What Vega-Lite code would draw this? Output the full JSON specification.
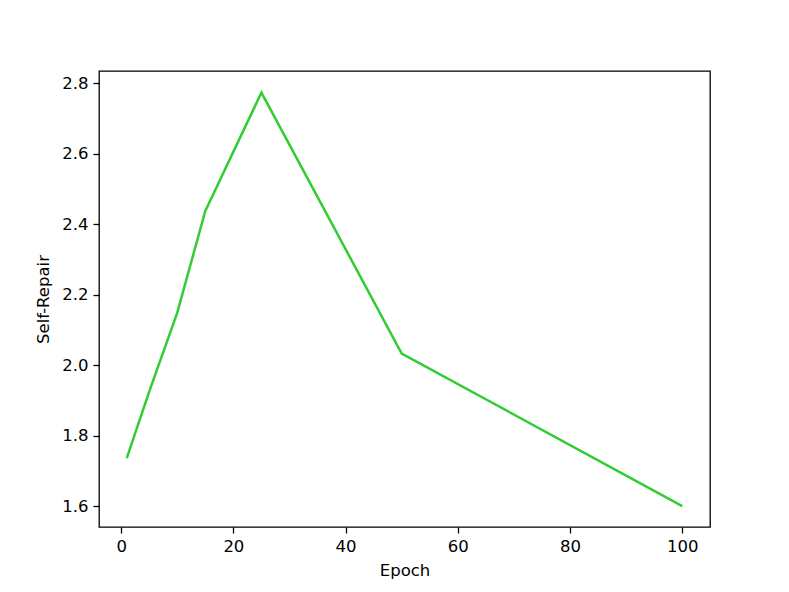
{
  "$schema": "https://vega.github.io/schema/vega-lite/v6.json",
  "width": 611,
  "height": 456,
  "autosize": {"type": "none"},
  "padding": {"left": 99, "top": 71, "right": 79, "bottom": 65},
  "background": "white",
  "config": {
    "view": {"stroke": "black", "strokeWidth": 1.3},
    "font": "DejaVu Sans",
    "axis": {
      "grid": false,
      "domain": false,
      "tickColor": "black",
      "tickSize": 6,
      "tickWidth": 1.3,
      "labelColor": "black",
      "labelFontSize": 16.5,
      "labelFont": "DejaVu Sans",
      "titleFont": "DejaVu Sans",
      "titleFontSize": 16.5,
      "titleFontWeight": "normal",
      "titleColor": "black",
      "labelPadding": 5
    }
  },
  "data": {
    "values": [
      {"epoch": 1, "value": 1.736},
      {"epoch": 5, "value": 1.925},
      {"epoch": 10, "value": 2.149},
      {"epoch": 15, "value": 2.438},
      {"epoch": 25, "value": 2.774},
      {"epoch": 50, "value": 2.033},
      {"epoch": 100, "value": 1.6}
    ]
  },
  "mark": {"type": "line", "color": "#32CD32", "strokeWidth": 2.5},
  "encoding": {
    "x": {
      "field": "epoch",
      "type": "quantitative",
      "title": "Epoch",
      "scale": {"domain": [-3.95, 104.95], "nice": false, "zero": false},
      "axis": {"values": [0, 20, 40, 60, 80, 100], "titlePadding": 8}
    },
    "y": {
      "field": "value",
      "type": "quantitative",
      "title": "Self-Repair",
      "scale": {"domain": [1.5406, 2.8352], "nice": false, "zero": false},
      "axis": {"values": [1.6, 1.8, 2.0, 2.2, 2.4, 2.6, 2.8], "format": ".1f", "titlePadding": 10}
    }
  }
}
